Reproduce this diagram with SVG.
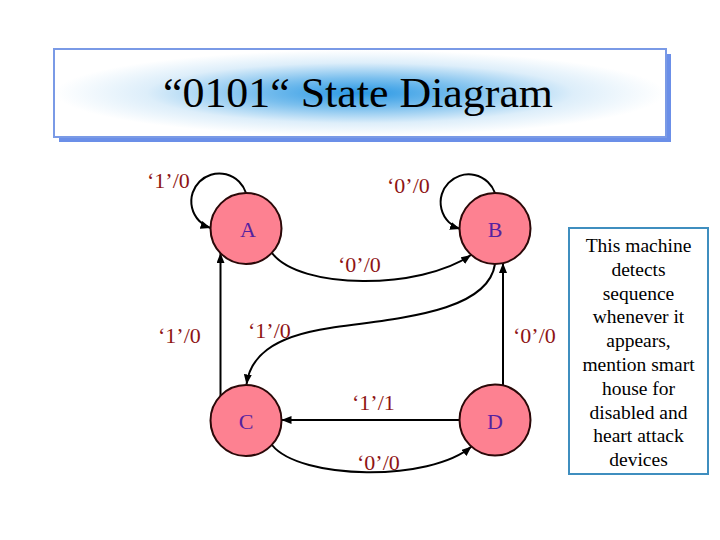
<svg xmlns="http://www.w3.org/2000/svg" width="720" height="540" viewBox="0 0 720 540">
<style>
.node circle{fill:#FD8191;stroke:#2a0808;stroke-width:2}
.node text{font-family:"Liberation Serif","Times New Roman",serif;font-size:22px;fill:#5522A0;text-anchor:middle}
.edge{fill:none;stroke:#000;stroke-width:2;marker-end:url(#arr)}
.lbl{font-family:"Liberation Serif","Times New Roman",serif;font-size:22px;fill:#8E1414}
.note{font-family:"Liberation Serif","Times New Roman",serif;font-size:19.5px;fill:#000;text-anchor:middle}
</style>
<defs>
<marker id="arr" viewBox="0 0 10 8" refX="10" refY="4" markerWidth="10" markerHeight="8" markerUnits="userSpaceOnUse" orient="auto">
<path d="M0,0 L10,4 L0,8 Z" fill="#000"/>
</marker>
<radialGradient id="tg" cx="0.5" cy="0.5" r="0.5">
<stop offset="0" stop-color="#2A98E4"/>
<stop offset="0.35" stop-color="#7CC0EE"/>
<stop offset="0.7" stop-color="#DDEEFA"/>
<stop offset="1" stop-color="#FFFFFF"/>
</radialGradient>
</defs>
<rect width="720" height="540" fill="#fff"/>
<g id="title">
<rect x="59" y="54" width="612" height="88" fill="#6B8FE8"/>
<rect x="54" y="49" width="612" height="88" fill="#fff" stroke="#7A9AE6" stroke-width="2"/>
<rect x="55" y="50" width="610" height="86" fill="url(#tg)"/>
<text x="358" y="107" font-family="'Liberation Serif','Times New Roman',serif" font-size="42" text-anchor="middle" textLength="390" lengthAdjust="spacingAndGlyphs" fill="#000">“0101“ State Diagram</text>
</g>
<g id="connectors">
<path class="edge" d="M246,193 A28,28 0 1 0 210.5,228"/>
<path class="edge" d="M495,193 A28,28 0 1 0 460,229"/>
<path class="edge" d="M272,253 C300,290 420,290 471,255"/>
<path class="edge" d="M495,264 C488,312 400,318 330,328 C270,337 250,358 246.5,384.5"/>
<path class="edge" d="M220.5,396 L220.5,253"/>
<path class="edge" d="M503,385.5 L503,263"/>
<path class="edge" d="M459.5,420 L281.5,420"/>
<path class="edge" d="M272,445 C300,480 430,482 471.5,446.5"/>
<text class="lbl" x="147" y="188">‘1’/0</text>
<text class="lbl" x="387" y="193">‘0’/0</text>
<text class="lbl" x="338" y="272">‘0’/0</text>
<text class="lbl" x="158" y="343">‘1’/0</text>
<text class="lbl" x="248" y="338">‘1’/0</text>
<text class="lbl" x="513" y="343">‘0’/0</text>
<text class="lbl" x="352" y="410">‘1’/1</text>
<text class="lbl" x="357" y="470">‘0’/0</text>
</g>
<g id="A" class="node"><circle cx="246" cy="228.5" r="35.5"/><text x="248" y="237">A</text></g>
<g id="B" class="node"><circle cx="495" cy="228.5" r="35.5"/><text x="495" y="237">B</text></g>
<g id="C" class="node"><circle cx="246" cy="420.5" r="35.5"/><text x="246" y="428.5">C</text></g>
<g id="D" class="node"><circle cx="495" cy="420" r="35.5"/><text x="495" y="429">D</text></g>
<g id="note">
<rect x="569" y="228" width="139" height="246" fill="#fff" stroke="#3F8EBF" stroke-width="2"/>
<text class="note" x="638.5" y="252">This machine</text>
<text class="note" x="638.5" y="275.8">detects</text>
<text class="note" x="638.5" y="299.6">sequence</text>
<text class="note" x="638.5" y="323.4">whenever it</text>
<text class="note" x="638.5" y="347.2">appears,</text>
<text class="note" x="638.5" y="371">mention smart</text>
<text class="note" x="638.5" y="394.8">house for</text>
<text class="note" x="638.5" y="418.6">disabled and</text>
<text class="note" x="638.5" y="442.4">heart attack</text>
<text class="note" x="638.5" y="466.2">devices</text>
</g>
</svg>
